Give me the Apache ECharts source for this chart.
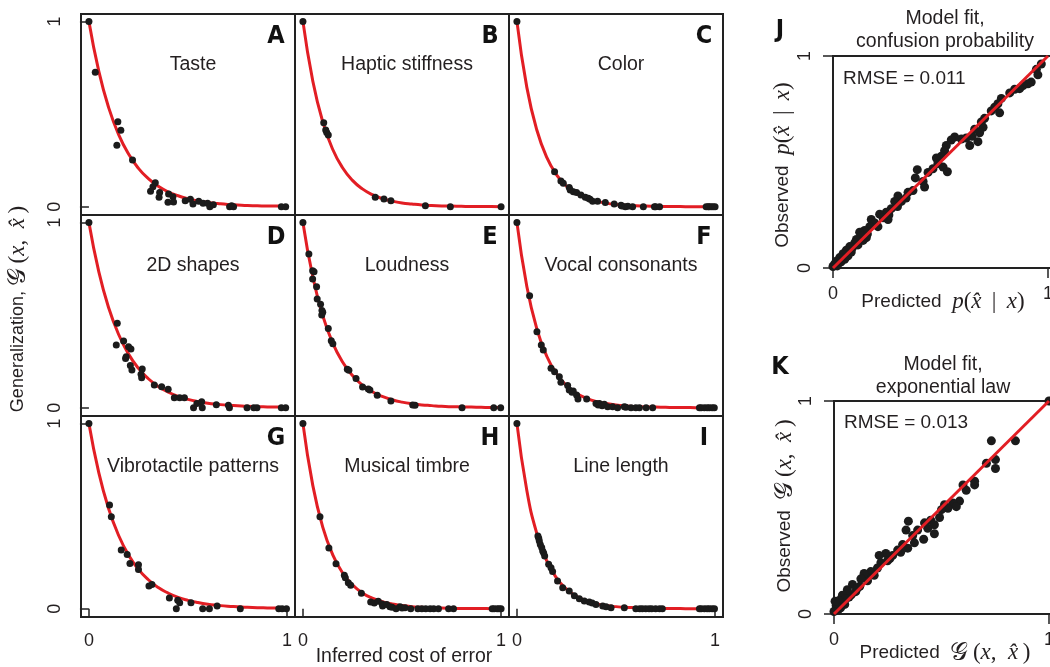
<!DOCTYPE html>
<html>
<head>
<meta charset="utf-8">
<script src="https://cdn.jsdelivr.net/npm/echarts@6/dist/echarts.min.js"></script>
<style>html,body{margin:0;padding:0;background:#fff;overflow:hidden}#c{width:1050px;height:667px}</style>
</head>
<body>
<div id="c"></div>
<script>
// ---------- DATA ----------
const panelNames = ['Taste','Haptic stiffness','Color','2D shapes','Loudness','Vocal consonants','Vibrotactile patterns','Musical timbre','Line length'];
const panelLetters = ['A','B','C','D','E','F','G','H','I'];
const tickValues = [0, 1];

const curveX = [0,0.05,0.1,0.15,0.2,0.25,0.3,0.35,0.4,0.45,0.5,0.55,0.6,0.65,0.7,0.75,0.8,0.85,0.9,0.95,1];
const curveA = [1,0.730,0.533,0.389,0.284,0.207,0.151,0.110,0.080,0.059,0.043,0.031,0.023,0.017,0.012,0.009,0.006,0.005,0.003,0.003,0.002];
const curveB = [1,0.677,0.458,0.310,0.210,0.142,0.096,0.065,0.044,0.030,0.020,0.014,0.009,0.006,0.004,0.003,0.002,0.001,0.001,0.001,0.000];
const curveC = [1,0.644,0.415,0.267,0.172,0.111,0.071,0.046,0.030,0.019,0.012,0.008,0.005,0.003,0.002,0.001,0.001,0.000,0.000,0.000,0.000];
const curveD = [1,0.733,0.538,0.395,0.289,0.212,0.156,0.114,0.084,0.061,0.045,0.033,0.024,0.018,0.013,0.010,0.007,0.005,0.004,0.003,0.002];
const curveE = [1,0.705,0.497,0.350,0.247,0.174,0.122,0.086,0.061,0.043,0.030,0.021,0.015,0.011,0.007,0.005,0.004,0.003,0.002,0.001,0.001];
const curveF = [1,0.654,0.427,0.279,0.183,0.119,0.078,0.051,0.033,0.022,0.014,0.009,0.006,0.004,0.003,0.002,0.001,0.001,0.000,0.000,0.000];
const curveG = [1,0.733,0.538,0.395,0.289,0.212,0.156,0.114,0.084,0.061,0.045,0.033,0.024,0.018,0.013,0.010,0.007,0.005,0.004,0.003,0.002];
const curveH = [1,0.664,0.440,0.292,0.194,0.129,0.085,0.057,0.038,0.025,0.017,0.011,0.007,0.005,0.003,0.002,0.001,0.001,0.001,0.000,0.000];
const curveI = [1,0.638,0.407,0.259,0.165,0.105,0.067,0.043,0.027,0.017,0.011,0.007,0.005,0.003,0.002,0.001,0.001,0.000,0.000,0.000,0.000];

const pointsA = [[0,1],[0.032,0.726],[0.146,0.458],[0.161,0.412],[0.141,0.331],[0.22,0.252],[0.335,0.129],[0.323,0.108],[0.311,0.083],[0.357,0.076],[0.354,0.051],[0.402,0.068],[0.399,0.024],[0.424,0.054],[0.427,0.025],[0.486,0.032],[0.512,0.04],[0.525,0.015],[0.554,0.029],[0.576,0.018],[0.599,0.018],[0.61,0],[0.628,0.01],[0.71,0],[0.72,0.005],[0.73,0],[0.971,0],[0.993,0]];
const pointsB = [[0,1],[0.105,0.453],[0.115,0.414],[0.12,0.4],[0.128,0.387],[0.365,0.051],[0.409,0.042],[0.444,0.032],[0.618,0.005],[0.744,0],[1,0]];
const pointsC = [[0,1],[0.19,0.189],[0.222,0.139],[0.234,0.127],[0.264,0.104],[0.269,0.09],[0.285,0.08],[0.301,0.076],[0.323,0.063],[0.345,0.051],[0.36,0.045],[0.369,0.04],[0.382,0.029],[0.407,0.029],[0.446,0.022],[0.491,0.015],[0.525,0.007],[0.53,0.003],[0.547,0],[0.56,0.002],[0.584,0],[0.638,0],[0.694,0],[0.7,0],[0.72,0],[0.955,0],[0.965,0],[0.97,0],[0.98,0],[0.99,0],[1,0]];
const pointsD = [[0,1],[0.143,0.455],[0.138,0.338],[0.175,0.36],[0.2,0.329],[0.212,0.316],[0.188,0.275],[0.185,0.266],[0.209,0.227],[0.217,0.203],[0.269,0.209],[0.263,0.18],[0.266,0.162],[0.33,0.122],[0.367,0.113],[0.4,0.1],[0.431,0.054],[0.458,0.054],[0.482,0.054],[0.528,0],[0.545,0.023],[0.569,0.032],[0.572,0],[0.643,0.016],[0.704,0.013],[0.709,0],[0.798,0],[0.832,0],[0.848,0],[0.971,0],[0.993,0]];
const pointsE = [[0,1],[0.03,0.829],[0.049,0.739],[0.056,0.733],[0.049,0.694],[0.069,0.653],[0.072,0.586],[0.089,0.558],[0.096,0.524],[0.1,0.515],[0.095,0.5],[0.128,0.428],[0.143,0.361],[0.151,0.345],[0.224,0.207],[0.232,0.202],[0.268,0.157],[0.301,0.112],[0.33,0.101],[0.338,0.095],[0.375,0.067],[0.444,0.036],[0.554,0.015],[0.566,0.013],[0.803,0],[0.963,0],[0.998,0]];
const pointsF = [[0,1],[0.064,0.604],[0.101,0.41],[0.123,0.338],[0.133,0.311],[0.172,0.213],[0.19,0.194],[0.214,0.167],[0.222,0.137],[0.256,0.119],[0.264,0.095],[0.284,0.09],[0.278,0.083],[0.301,0.068],[0.308,0.047],[0.352,0.047],[0.399,0.023],[0.41,0.015],[0.416,0.023],[0.43,0.01],[0.441,0.018],[0.458,0.005],[0.483,0.005],[0.508,0],[0.542,0.005],[0.55,0.002],[0.576,0],[0.6,0],[0.618,0],[0.652,0],[0.685,0],[0.921,0],[0.93,0],[0.946,0],[0.96,0],[0.971,0],[0.985,0],[0.996,0]];
const pointsG = [[0,1],[0.104,0.559],[0.113,0.496],[0.163,0.316],[0.193,0.293],[0.207,0.244],[0.25,0.237],[0.25,0.212],[0.303,0.122],[0.318,0.131],[0.406,0.057],[0.448,0.046],[0.458,0.032],[0.441,0],[0.515,0.032],[0.574,0],[0.608,0],[0.647,0.014],[0.764,0],[0.958,0],[0.975,0],[0.997,0]];
const pointsH = [[0,1],[0.086,0.496],[0.131,0.327],[0.167,0.243],[0.209,0.18],[0.214,0.167],[0.229,0.14],[0.241,0.126],[0.295,0.083],[0.342,0.036],[0.36,0.03],[0.38,0.04],[0.4,0.025],[0.402,0.014],[0.423,0.023],[0.439,0.011],[0.45,0.008],[0.47,0],[0.49,0.011],[0.5,0.003],[0.515,0.005],[0.544,0],[0.58,0],[0.6,0],[0.62,0],[0.642,0],[0.66,0],[0.684,0],[0.735,0],[0.76,0],[0.955,0],[0.965,0],[0.98,0],[0.99,0],[1,0]];
const pointsI = [[0,1],[0.106,0.392],[0.11,0.38],[0.113,0.365],[0.118,0.347],[0.125,0.33],[0.13,0.311],[0.135,0.3],[0.14,0.284],[0.16,0.24],[0.172,0.221],[0.18,0.2],[0.205,0.149],[0.231,0.113],[0.264,0.095],[0.29,0.07],[0.315,0.054],[0.34,0.041],[0.365,0.036],[0.38,0.03],[0.399,0.023],[0.433,0.014],[0.45,0.01],[0.475,0.005],[0.542,0.005],[0.6,0],[0.62,0],[0.633,0],[0.65,0],[0.667,0],[0.68,0],[0.7,0],[0.72,0],[0.734,0],[0.921,0],[0.93,0],[0.946,0],[0.96,0],[0.971,0],[0.985,0],[0.997,0]];

const pointsJ = [[0.969,0.962],[0.946,0.937],[0.953,0.911],[0.922,0.877],[0.907,0.869],[0.884,0.86],[0.868,0.846],[0.845,0.843],[0.822,0.826],[0.783,0.8],[0.767,0.775],[0.752,0.758],[0.775,0.732],[0.736,0.741],[0.705,0.706],[0.69,0.689],[0.698,0.664],[0.682,0.638],[0.659,0.655],[0.647,0.621],[0.636,0.578],[0.674,0.596],[0.62,0.613],[0.597,0.608],[0.566,0.618],[0.55,0.604],[0.527,0.578],[0.519,0.553],[0.504,0.527],[0.481,0.519],[0.488,0.493],[0.512,0.476],[0.532,0.454],[0.465,0.468],[0.442,0.451],[0.392,0.464],[0.383,0.425],[0.419,0.408],[0.426,0.382],[0.372,0.365],[0.349,0.357],[0.34,0.33],[0.318,0.314],[0.302,0.34],[0.3,0.29],[0.287,0.314],[0.271,0.28],[0.26,0.25],[0.256,0.229],[0.248,0.263],[0.217,0.254],[0.233,0.237],[0.209,0.195],[0.178,0.229],[0.194,0.212],[0.171,0.195],[0.16,0.16],[0.155,0.143],[0.147,0.177],[0.14,0.13],[0.124,0.169],[0.132,0.152],[0.116,0.109],[0.109,0.135],[0.101,0.118],[0.09,0.095],[0.085,0.075],[0.078,0.101],[0.07,0.058],[0.062,0.084],[0.06,0.05],[0.054,0.041],[0.047,0.067],[0.045,0.05],[0.039,0.032],[0.035,0.028],[0.031,0.049],[0.023,0.024],[0.02,0.01],[0.016,0.032],[0.01,0.02],[0.005,0.015],[0,0.007]];
const pointsK = [[0.732,0.813],[0.844,0.813],[0.709,0.708],[0.751,0.725],[0.751,0.683],[0.6,0.606],[0.654,0.606],[0.654,0.623],[0.615,0.581],[0.584,0.53],[0.514,0.513],[0.553,0.521],[0.569,0.504],[0.53,0.496],[0.5,0.49],[0.491,0.453],[0.45,0.44],[0.346,0.436],[0.335,0.394],[0.421,0.428],[0.436,0.402],[0.467,0.419],[0.467,0.377],[0.417,0.351],[0.366,0.368],[0.374,0.334],[0.389,0.394],[0.319,0.326],[0.31,0.29],[0.296,0.3],[0.343,0.309],[0.273,0.275],[0.26,0.26],[0.241,0.284],[0.21,0.275],[0.218,0.241],[0.249,0.25],[0.202,0.216],[0.171,0.199],[0.187,0.182],[0.15,0.17],[0.156,0.156],[0.14,0.19],[0.125,0.165],[0.12,0.13],[0.101,0.105],[0.086,0.139],[0.109,0.122],[0.08,0.09],[0.07,0.08],[0.062,0.114],[0.05,0.045],[0.04,0.05],[0.039,0.088],[0.055,0.071],[0.031,0.029],[0.023,0.063],[0.02,0.02],[0.016,0.037],[0.01,0.04],[0.008,0.02],[0.005,0.06],[0,0.012],[1,1]];
const diagLine = [[0,0],[1,1]];

const curves = [curveA,curveB,curveC,curveD,curveE,curveF,curveG,curveH,curveI];
const points = [pointsA,pointsB,pointsC,pointsD,pointsE,pointsF,pointsG,pointsH,pointsI];

// ---------- STYLE / LAYOUT ----------
const RED = '#e21e24';
const INK = '#231f20';
const DOT = '#1b1b1b';
const SANS = "'Liberation Sans', Arial, Helvetica, sans-serif";
const SERIF = "'Liberation Serif', 'DejaVu Serif', serif";
const BOLDF = "'Liberation Sans Narrow', 'DejaVu Sans Condensed', 'Liberation Sans', sans-serif";
const colLeft = [81, 295, 509], rowTop = [14, 215, 416], PW = 214, PH = 201;

const grids = [], xAxes = [], yAxes = [], series = [], graphics = [];

function richMath(base, mathSize, scriptSize) {
  return {
    s: {fontFamily: SANS, fontSize: base, fill: INK, color: INK},
    m: {fontFamily: SERIF, fontStyle: 'italic', fontSize: mathSize, fill: INK, color: INK},
    r: {fontFamily: SERIF, fontSize: mathSize, fill: INK, color: INK},
    g: {fontFamily: "'DejaVu Sans', 'DejaVu Serif', serif", fontSize: scriptSize, fill: INK, color: INK}
  };
}
function txt(x, y, text, opts) {
  opts = opts || {};
  const st = Object.assign({
    text: text, fill: INK, fontSize: 19.5, fontFamily: SANS,
    align: 'center', textAlign: 'center', verticalAlign: 'middle', textVerticalAlign: 'middle'
  }, opts.style || {});
  const el = {type: 'text', x: x, y: y, style: st, z: 100};
  if (opts.rotation) el.rotation = opts.rotation;
  graphics.push(el);
}

for (let i = 0; i < 9; i++) {
  const col = i % 3, row = Math.floor(i / 3);
  grids.push({left: colLeft[col], top: rowTop[row], width: PW, height: PH, show: true,
    borderColor: '#222', borderWidth: 2, backgroundColor: 'transparent', outerBoundsMode: 'none'});
  xAxes.push({gridIndex: i, type: 'value', min: -0.04, max: 1.04,
    splitLine: {show: false}, axisLine: {show: false},
    axisTick: {show: row === 2, customValues: tickValues, length: 8, lineStyle: {color: '#222', width: 1.5}},
    axisLabel: {show: row === 2, customValues: tickValues, fontSize: 18, color: INK, fontFamily: SANS, margin: 15}});
  yAxes.push({gridIndex: i, type: 'value', min: -0.045, max: 1.04,
    splitLine: {show: false}, axisLine: {show: false},
    axisTick: {show: col === 0, customValues: tickValues, length: 9, lineStyle: {color: '#222', width: 1.5}},
    axisLabel: {show: col === 0, customValues: tickValues, fontSize: 18, color: INK, fontFamily: SANS, rotate: 90, margin: 17}});
  series.push({type: 'line', xAxisIndex: i, yAxisIndex: i,
    data: curveX.map((x, j) => [x, curves[i][j]]),
    smooth: 0.5, showSymbol: false, symbol: 'none',
    lineStyle: {color: RED, width: 3}, z: 2, silent: true});
  series.push({type: 'scatter', xAxisIndex: i, yAxisIndex: i, data: points[i],
    symbolSize: 7, itemStyle: {color: DOT, opacity: 1}, z: 3, silent: true});
  txt(colLeft[col] + 112, rowTop[row] + 51, panelNames[i]);
  txt(colLeft[col] + PW - 19, rowTop[row] + 22, panelLetters[i],
    {style: {fontFamily: BOLDF, fontWeight: 'bold', fontSize: 25, fill: '#111'}});
}

// Panels J and K
const rightPanels = [
  {left: 833, top: 56, h: 212, pts: pointsJ},
  {left: 834, top: 401, h: 213, pts: pointsK}
];
rightPanels.forEach((p, k) => {
  const gi = 9 + k;
  grids.push({left: p.left, top: p.top, width: 218, height: p.h, show: true,
    borderColor: '#222', borderWidth: 2, backgroundColor: 'transparent', outerBoundsMode: 'none'});
  xAxes.push({gridIndex: gi, type: 'value', min: 0, max: 1.014,
    splitLine: {show: false}, axisLine: {show: false},
    axisTick: {show: true, customValues: tickValues, length: 10, lineStyle: {color: '#222', width: 1.5}},
    axisLabel: {show: true, customValues: tickValues, fontSize: 18, color: INK, fontFamily: SANS, margin: 17}});
  yAxes.push({gridIndex: gi, type: 'value', min: 0, max: 1,
    splitLine: {show: false}, axisLine: {show: false},
    axisTick: {show: true, customValues: tickValues, length: 10, lineStyle: {color: '#222', width: 1.5}},
    axisLabel: {show: true, customValues: tickValues, fontSize: 18, color: INK, fontFamily: SANS, rotate: 90, margin: 19}});
  series.push({type: 'scatter', xAxisIndex: gi, yAxisIndex: gi, data: p.pts,
    symbolSize: 9, itemStyle: {color: DOT, opacity: 1}, z: 2, silent: true});
  series.push({type: 'line', xAxisIndex: gi, yAxisIndex: gi, data: diagLine,
    showSymbol: false, symbol: 'none', lineStyle: {color: RED, width: 3}, z: 4, silent: true});
});

// Text for J, K and axis titles
const letterStyle = {style: {fontFamily: BOLDF, fontWeight: 'bold', fontSize: 25, fill: '#111'}};
txt(780, 30, 'J', letterStyle);
txt(780, 367, 'K', letterStyle);
txt(945, 19, 'Model fit,');
txt(945, 42, 'confusion probability');
txt(943, 365, 'Model fit,');
txt(943, 388, 'exponential law');
txt(843, 79, 'RMSE = 0.011', {style: {align: 'left', textAlign: 'left', fontSize: 19}});
txt(844, 423, 'RMSE = 0.013', {style: {align: 'left', textAlign: 'left', fontSize: 19}});

const gForm = '{g|\uD835\uDCA2}{r|\u2009(}{m|x}{r|,\u2002}{m|x\u0302}{r|\u2009)}';
const pText = '{s|Predicted  }{m|p}{r|(}{m|x\u0302}{r| \u2009|\u2009 }{m|x}{r|)}';
const oText = '{s|Observed  }{m|p}{r|(}{m|x\u0302}{r| \u2009|\u2009 }{m|x}{r|)}';
const gPred = '{s|Predicted  }' + gForm;
const gObs = '{s|Observed  }' + gForm;
const genText = '{s|Generalization, }' + gForm;

txt(943, 302, pText, {style: {rich: richMath(19, 23, 22)}});
txt(783, 165, oText, {style: {rich: richMath(19, 23, 22)}, rotation: Math.PI / 2});
txt(945, 653, gPred, {style: {rich: richMath(19, 23, 25)}});
txt(785, 506, gObs, {style: {rich: richMath(19, 23, 25)}, rotation: Math.PI / 2});
txt(18, 309, genText, {style: {rich: richMath(18, 23, 25)}, rotation: Math.PI / 2});
txt(404, 657, 'Inferred cost of error');

const chart = echarts.init(document.getElementById('c'), null, {renderer: 'canvas'});
chart.setOption({
  animation: false,
  backgroundColor: '#fff',
  grid: grids, xAxis: xAxes, yAxis: yAxes, series: series,
  graphic: {elements: graphics}
});
</script>
</body>
</html>
